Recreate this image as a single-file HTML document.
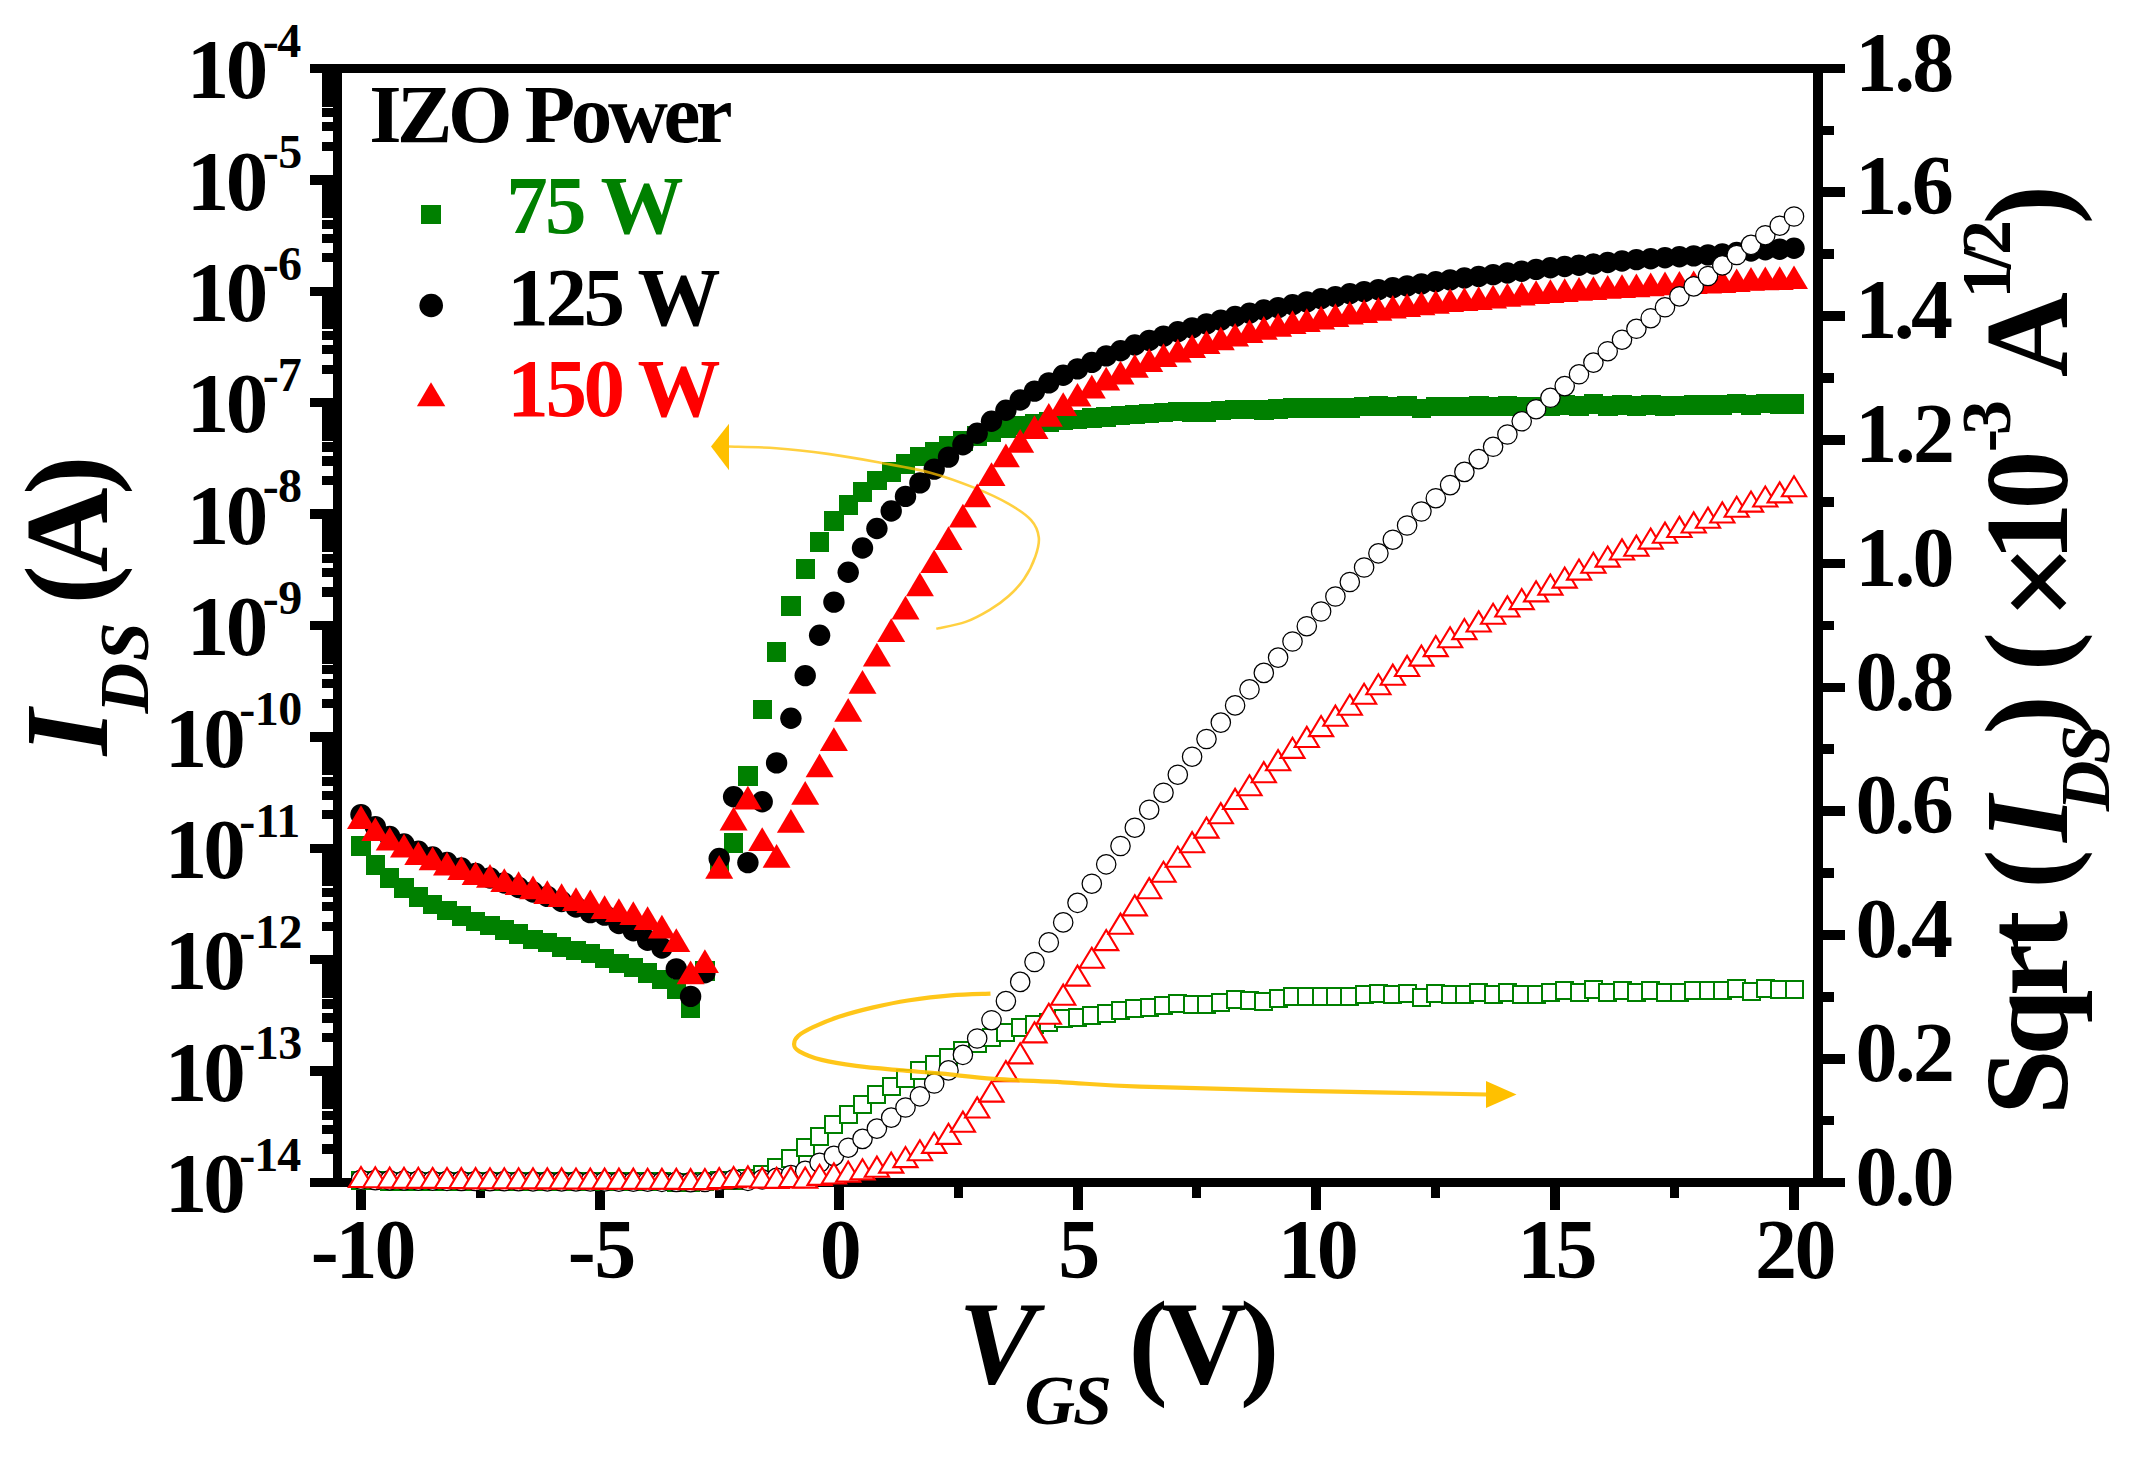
<!DOCTYPE html>
<html><head><meta charset="utf-8"><title>I_DS vs V_GS</title>
<style>html,body{margin:0;padding:0;background:#fff}svg{display:block}text{font-family:"Liberation Serif",serif;font-weight:bold;white-space:pre}</style>
</head><body>
<svg width="2148" height="1465" viewBox="0 0 2148 1465">
<rect width="2148" height="1465" fill="#fff"/>
<g shape-rendering="crispEdges">
<rect x="310.00" y="64.00" width="1535.00" height="9.00" fill="#000"/>
<rect x="310.00" y="1178.00" width="1535.00" height="9.00" fill="#000"/>
<rect x="333.00" y="64.00" width="9.00" height="1123.00" fill="#000"/>
<rect x="1813.00" y="64.00" width="10.00" height="1123.00" fill="#000"/>
<rect x="310.00" y="63.75" width="24.00" height="9.50" fill="#000"/>
<rect x="322.00" y="141.77" width="12.00" height="9.20" fill="#000"/>
<rect x="322.00" y="122.15" width="12.00" height="9.20" fill="#000"/>
<rect x="322.00" y="108.23" width="12.00" height="9.20" fill="#000"/>
<rect x="322.00" y="97.43" width="12.00" height="9.20" fill="#000"/>
<rect x="322.00" y="88.61" width="12.00" height="9.20" fill="#000"/>
<rect x="322.00" y="81.16" width="12.00" height="9.20" fill="#000"/>
<rect x="322.00" y="74.70" width="12.00" height="9.20" fill="#000"/>
<rect x="322.00" y="69.00" width="12.00" height="9.20" fill="#000"/>
<rect x="310.00" y="175.15" width="24.00" height="9.50" fill="#000"/>
<rect x="322.00" y="253.17" width="12.00" height="9.20" fill="#000"/>
<rect x="322.00" y="233.55" width="12.00" height="9.20" fill="#000"/>
<rect x="322.00" y="219.63" width="12.00" height="9.20" fill="#000"/>
<rect x="322.00" y="208.83" width="12.00" height="9.20" fill="#000"/>
<rect x="322.00" y="200.01" width="12.00" height="9.20" fill="#000"/>
<rect x="322.00" y="192.56" width="12.00" height="9.20" fill="#000"/>
<rect x="322.00" y="186.10" width="12.00" height="9.20" fill="#000"/>
<rect x="322.00" y="180.40" width="12.00" height="9.20" fill="#000"/>
<rect x="310.00" y="286.55" width="24.00" height="9.50" fill="#000"/>
<rect x="322.00" y="364.57" width="12.00" height="9.20" fill="#000"/>
<rect x="322.00" y="344.95" width="12.00" height="9.20" fill="#000"/>
<rect x="322.00" y="331.03" width="12.00" height="9.20" fill="#000"/>
<rect x="322.00" y="320.23" width="12.00" height="9.20" fill="#000"/>
<rect x="322.00" y="311.41" width="12.00" height="9.20" fill="#000"/>
<rect x="322.00" y="303.96" width="12.00" height="9.20" fill="#000"/>
<rect x="322.00" y="297.50" width="12.00" height="9.20" fill="#000"/>
<rect x="322.00" y="291.80" width="12.00" height="9.20" fill="#000"/>
<rect x="310.00" y="397.95" width="24.00" height="9.50" fill="#000"/>
<rect x="322.00" y="475.97" width="12.00" height="9.20" fill="#000"/>
<rect x="322.00" y="456.35" width="12.00" height="9.20" fill="#000"/>
<rect x="322.00" y="442.43" width="12.00" height="9.20" fill="#000"/>
<rect x="322.00" y="431.63" width="12.00" height="9.20" fill="#000"/>
<rect x="322.00" y="422.81" width="12.00" height="9.20" fill="#000"/>
<rect x="322.00" y="415.36" width="12.00" height="9.20" fill="#000"/>
<rect x="322.00" y="408.90" width="12.00" height="9.20" fill="#000"/>
<rect x="322.00" y="403.20" width="12.00" height="9.20" fill="#000"/>
<rect x="310.00" y="509.35" width="24.00" height="9.50" fill="#000"/>
<rect x="322.00" y="587.37" width="12.00" height="9.20" fill="#000"/>
<rect x="322.00" y="567.75" width="12.00" height="9.20" fill="#000"/>
<rect x="322.00" y="553.83" width="12.00" height="9.20" fill="#000"/>
<rect x="322.00" y="543.03" width="12.00" height="9.20" fill="#000"/>
<rect x="322.00" y="534.21" width="12.00" height="9.20" fill="#000"/>
<rect x="322.00" y="526.76" width="12.00" height="9.20" fill="#000"/>
<rect x="322.00" y="520.30" width="12.00" height="9.20" fill="#000"/>
<rect x="322.00" y="514.60" width="12.00" height="9.20" fill="#000"/>
<rect x="310.00" y="620.75" width="24.00" height="9.50" fill="#000"/>
<rect x="322.00" y="698.77" width="12.00" height="9.20" fill="#000"/>
<rect x="322.00" y="679.15" width="12.00" height="9.20" fill="#000"/>
<rect x="322.00" y="665.23" width="12.00" height="9.20" fill="#000"/>
<rect x="322.00" y="654.43" width="12.00" height="9.20" fill="#000"/>
<rect x="322.00" y="645.61" width="12.00" height="9.20" fill="#000"/>
<rect x="322.00" y="638.16" width="12.00" height="9.20" fill="#000"/>
<rect x="322.00" y="631.70" width="12.00" height="9.20" fill="#000"/>
<rect x="322.00" y="626.00" width="12.00" height="9.20" fill="#000"/>
<rect x="310.00" y="732.15" width="24.00" height="9.50" fill="#000"/>
<rect x="322.00" y="810.17" width="12.00" height="9.20" fill="#000"/>
<rect x="322.00" y="790.55" width="12.00" height="9.20" fill="#000"/>
<rect x="322.00" y="776.63" width="12.00" height="9.20" fill="#000"/>
<rect x="322.00" y="765.83" width="12.00" height="9.20" fill="#000"/>
<rect x="322.00" y="757.01" width="12.00" height="9.20" fill="#000"/>
<rect x="322.00" y="749.56" width="12.00" height="9.20" fill="#000"/>
<rect x="322.00" y="743.10" width="12.00" height="9.20" fill="#000"/>
<rect x="322.00" y="737.40" width="12.00" height="9.20" fill="#000"/>
<rect x="310.00" y="843.55" width="24.00" height="9.50" fill="#000"/>
<rect x="322.00" y="921.57" width="12.00" height="9.20" fill="#000"/>
<rect x="322.00" y="901.95" width="12.00" height="9.20" fill="#000"/>
<rect x="322.00" y="888.03" width="12.00" height="9.20" fill="#000"/>
<rect x="322.00" y="877.23" width="12.00" height="9.20" fill="#000"/>
<rect x="322.00" y="868.41" width="12.00" height="9.20" fill="#000"/>
<rect x="322.00" y="860.96" width="12.00" height="9.20" fill="#000"/>
<rect x="322.00" y="854.50" width="12.00" height="9.20" fill="#000"/>
<rect x="322.00" y="848.80" width="12.00" height="9.20" fill="#000"/>
<rect x="310.00" y="954.95" width="24.00" height="9.50" fill="#000"/>
<rect x="322.00" y="1032.97" width="12.00" height="9.20" fill="#000"/>
<rect x="322.00" y="1013.35" width="12.00" height="9.20" fill="#000"/>
<rect x="322.00" y="999.43" width="12.00" height="9.20" fill="#000"/>
<rect x="322.00" y="988.63" width="12.00" height="9.20" fill="#000"/>
<rect x="322.00" y="979.81" width="12.00" height="9.20" fill="#000"/>
<rect x="322.00" y="972.36" width="12.00" height="9.20" fill="#000"/>
<rect x="322.00" y="965.90" width="12.00" height="9.20" fill="#000"/>
<rect x="322.00" y="960.20" width="12.00" height="9.20" fill="#000"/>
<rect x="310.00" y="1066.35" width="24.00" height="9.50" fill="#000"/>
<rect x="322.00" y="1144.37" width="12.00" height="9.20" fill="#000"/>
<rect x="322.00" y="1124.75" width="12.00" height="9.20" fill="#000"/>
<rect x="322.00" y="1110.83" width="12.00" height="9.20" fill="#000"/>
<rect x="322.00" y="1100.03" width="12.00" height="9.20" fill="#000"/>
<rect x="322.00" y="1091.21" width="12.00" height="9.20" fill="#000"/>
<rect x="322.00" y="1083.76" width="12.00" height="9.20" fill="#000"/>
<rect x="322.00" y="1077.30" width="12.00" height="9.20" fill="#000"/>
<rect x="322.00" y="1071.60" width="12.00" height="9.20" fill="#000"/>
<rect x="310.00" y="1177.75" width="24.00" height="9.50" fill="#000"/>
<rect x="1822.00" y="1177.70" width="23.00" height="9.60" fill="#000"/>
<rect x="1822.00" y="1115.81" width="12.00" height="9.60" fill="#000"/>
<rect x="1822.00" y="1053.92" width="23.00" height="9.60" fill="#000"/>
<rect x="1822.00" y="992.03" width="12.00" height="9.60" fill="#000"/>
<rect x="1822.00" y="930.14" width="23.00" height="9.60" fill="#000"/>
<rect x="1822.00" y="868.26" width="12.00" height="9.60" fill="#000"/>
<rect x="1822.00" y="806.37" width="23.00" height="9.60" fill="#000"/>
<rect x="1822.00" y="744.48" width="12.00" height="9.60" fill="#000"/>
<rect x="1822.00" y="682.59" width="23.00" height="9.60" fill="#000"/>
<rect x="1822.00" y="620.70" width="12.00" height="9.60" fill="#000"/>
<rect x="1822.00" y="558.81" width="23.00" height="9.60" fill="#000"/>
<rect x="1822.00" y="496.92" width="12.00" height="9.60" fill="#000"/>
<rect x="1822.00" y="435.03" width="23.00" height="9.60" fill="#000"/>
<rect x="1822.00" y="373.14" width="12.00" height="9.60" fill="#000"/>
<rect x="1822.00" y="311.26" width="23.00" height="9.60" fill="#000"/>
<rect x="1822.00" y="249.37" width="12.00" height="9.60" fill="#000"/>
<rect x="1822.00" y="187.48" width="23.00" height="9.60" fill="#000"/>
<rect x="1822.00" y="125.59" width="12.00" height="9.60" fill="#000"/>
<rect x="1822.00" y="63.70" width="23.00" height="9.60" fill="#000"/>
<rect x="356.00" y="1186.00" width="10.00" height="24.00" fill="#000"/>
<rect x="475.92" y="1186.00" width="9.00" height="12.00" fill="#000"/>
<rect x="594.83" y="1186.00" width="10.00" height="24.00" fill="#000"/>
<rect x="714.75" y="1186.00" width="9.00" height="12.00" fill="#000"/>
<rect x="833.67" y="1186.00" width="10.00" height="24.00" fill="#000"/>
<rect x="953.58" y="1186.00" width="9.00" height="12.00" fill="#000"/>
<rect x="1072.50" y="1186.00" width="10.00" height="24.00" fill="#000"/>
<rect x="1192.42" y="1186.00" width="9.00" height="12.00" fill="#000"/>
<rect x="1311.33" y="1186.00" width="10.00" height="24.00" fill="#000"/>
<rect x="1431.25" y="1186.00" width="9.00" height="12.00" fill="#000"/>
<rect x="1550.17" y="1186.00" width="10.00" height="24.00" fill="#000"/>
<rect x="1670.08" y="1186.00" width="9.00" height="12.00" fill="#000"/>
<rect x="1789.00" y="1186.00" width="10.00" height="24.00" fill="#000"/>
</g>
<g fill="#008000" shape-rendering="crispEdges"><rect x="351.2" y="836.0" width="19.5" height="19.5"/><rect x="365.6" y="855.2" width="19.5" height="19.5"/><rect x="379.9" y="868.4" width="19.5" height="19.5"/><rect x="394.2" y="878.2" width="19.5" height="19.5"/><rect x="408.6" y="887.2" width="19.5" height="19.5"/><rect x="422.9" y="894.5" width="19.5" height="19.5"/><rect x="437.2" y="900.5" width="19.5" height="19.5"/><rect x="451.6" y="906.4" width="19.5" height="19.5"/><rect x="465.9" y="911.5" width="19.5" height="19.5"/><rect x="480.2" y="915.5" width="19.5" height="19.5"/><rect x="494.6" y="920.4" width="19.5" height="19.5"/><rect x="508.9" y="924.4" width="19.5" height="19.5"/><rect x="523.2" y="929.5" width="19.5" height="19.5"/><rect x="537.5" y="932.5" width="19.5" height="19.5"/><rect x="551.9" y="937.1" width="19.5" height="19.5"/><rect x="566.2" y="940.5" width="19.5" height="19.5"/><rect x="580.5" y="943.5" width="19.5" height="19.5"/><rect x="594.9" y="948.8" width="19.5" height="19.5"/><rect x="609.2" y="953.5" width="19.5" height="19.5"/><rect x="623.5" y="957.5" width="19.5" height="19.5"/><rect x="637.9" y="963.1" width="19.5" height="19.5"/><rect x="652.2" y="969.5" width="19.5" height="19.5"/><rect x="666.5" y="979.4" width="19.5" height="19.5"/><rect x="680.8" y="998.0" width="19.5" height="19.5"/><rect x="695.2" y="961.0" width="19.5" height="19.5"/><rect x="709.5" y="852.8" width="19.5" height="19.5"/><rect x="723.8" y="833.1" width="19.5" height="19.5"/><rect x="738.2" y="766.0" width="19.5" height="19.5"/><rect x="752.5" y="699.6" width="19.5" height="19.5"/><rect x="766.8" y="642.2" width="19.5" height="19.5"/><rect x="781.1" y="596.1" width="19.5" height="19.5"/><rect x="795.5" y="559.1" width="19.5" height="19.5"/><rect x="809.8" y="532.0" width="19.5" height="19.5"/><rect x="824.1" y="511.2" width="19.5" height="19.5"/><rect x="838.5" y="495.2" width="19.5" height="19.5"/><rect x="852.8" y="482.1" width="19.5" height="19.5"/><rect x="867.1" y="470.8" width="19.5" height="19.5"/><rect x="881.5" y="462.2" width="19.5" height="19.5"/><rect x="895.8" y="454.1" width="19.5" height="19.5"/><rect x="910.1" y="446.9" width="19.5" height="19.5"/><rect x="924.5" y="441.8" width="19.5" height="19.5"/><rect x="938.8" y="436.1" width="19.5" height="19.5"/><rect x="953.1" y="431.1" width="19.5" height="19.5"/><rect x="967.4" y="426.2" width="19.5" height="19.5"/><rect x="981.8" y="422.2" width="19.5" height="19.5"/><rect x="996.1" y="418.8" width="19.5" height="19.5"/><rect x="1010.4" y="415.8" width="19.5" height="19.5"/><rect x="1024.8" y="413.8" width="19.5" height="19.5"/><rect x="1039.1" y="412.2" width="19.5" height="19.5"/><rect x="1053.4" y="410.2" width="19.5" height="19.5"/><rect x="1067.8" y="409.5" width="19.5" height="19.5"/><rect x="1082.1" y="408.4" width="19.5" height="19.5"/><rect x="1096.4" y="407.3" width="19.5" height="19.5"/><rect x="1110.7" y="405.6" width="19.5" height="19.5"/><rect x="1125.1" y="404.5" width="19.5" height="19.5"/><rect x="1139.4" y="403.8" width="19.5" height="19.5"/><rect x="1153.7" y="402.8" width="19.5" height="19.5"/><rect x="1168.1" y="401.8" width="19.5" height="19.5"/><rect x="1182.4" y="402.0" width="19.5" height="19.5"/><rect x="1196.7" y="402.0" width="19.5" height="19.5"/><rect x="1211.0" y="400.8" width="19.5" height="19.5"/><rect x="1225.4" y="399.5" width="19.5" height="19.5"/><rect x="1239.7" y="399.8" width="19.5" height="19.5"/><rect x="1254.0" y="400.3" width="19.5" height="19.5"/><rect x="1268.4" y="399.1" width="19.5" height="19.5"/><rect x="1282.7" y="398.1" width="19.5" height="19.5"/><rect x="1297.0" y="398.1" width="19.5" height="19.5"/><rect x="1311.4" y="398.1" width="19.5" height="19.5"/><rect x="1325.7" y="398.1" width="19.5" height="19.5"/><rect x="1340.0" y="398.1" width="19.5" height="19.5"/><rect x="1354.3" y="396.9" width="19.5" height="19.5"/><rect x="1368.7" y="396.4" width="19.5" height="19.5"/><rect x="1383.0" y="396.9" width="19.5" height="19.5"/><rect x="1397.3" y="396.4" width="19.5" height="19.5"/><rect x="1411.7" y="398.5" width="19.5" height="19.5"/><rect x="1426.0" y="396.5" width="19.5" height="19.5"/><rect x="1440.3" y="396.9" width="19.5" height="19.5"/><rect x="1454.7" y="396.9" width="19.5" height="19.5"/><rect x="1469.0" y="396.0" width="19.5" height="19.5"/><rect x="1483.3" y="396.9" width="19.5" height="19.5"/><rect x="1497.7" y="396.0" width="19.5" height="19.5"/><rect x="1512.0" y="396.9" width="19.5" height="19.5"/><rect x="1526.3" y="396.9" width="19.5" height="19.5"/><rect x="1540.6" y="396.0" width="19.5" height="19.5"/><rect x="1555.0" y="395.1" width="19.5" height="19.5"/><rect x="1569.3" y="396.0" width="19.5" height="19.5"/><rect x="1583.6" y="394.4" width="19.5" height="19.5"/><rect x="1598.0" y="396.0" width="19.5" height="19.5"/><rect x="1612.3" y="395.1" width="19.5" height="19.5"/><rect x="1626.6" y="396.0" width="19.5" height="19.5"/><rect x="1641.0" y="395.1" width="19.5" height="19.5"/><rect x="1655.3" y="396.0" width="19.5" height="19.5"/><rect x="1669.6" y="395.7" width="19.5" height="19.5"/><rect x="1683.9" y="395.1" width="19.5" height="19.5"/><rect x="1698.3" y="395.1" width="19.5" height="19.5"/><rect x="1712.6" y="395.1" width="19.5" height="19.5"/><rect x="1726.9" y="393.8" width="19.5" height="19.5"/><rect x="1741.3" y="395.4" width="19.5" height="19.5"/><rect x="1755.6" y="393.8" width="19.5" height="19.5"/><rect x="1769.9" y="394.4" width="19.5" height="19.5"/><rect x="1784.2" y="394.4" width="19.5" height="19.5"/></g>
<g fill="#000"><circle cx="361.0" cy="814.6" r="10.7"/><circle cx="375.3" cy="826.6" r="10.7"/><circle cx="389.7" cy="836.5" r="10.7"/><circle cx="404.0" cy="844.0" r="10.7"/><circle cx="418.3" cy="851.3" r="10.7"/><circle cx="432.6" cy="857.0" r="10.7"/><circle cx="447.0" cy="862.5" r="10.7"/><circle cx="461.3" cy="868.0" r="10.7"/><circle cx="475.6" cy="873.5" r="10.7"/><circle cx="490.0" cy="878.0" r="10.7"/><circle cx="504.3" cy="883.0" r="10.7"/><circle cx="518.6" cy="887.5" r="10.7"/><circle cx="533.0" cy="892.0" r="10.7"/><circle cx="547.3" cy="896.4" r="10.7"/><circle cx="561.6" cy="901.5" r="10.7"/><circle cx="576.0" cy="907.0" r="10.7"/><circle cx="590.3" cy="912.6" r="10.7"/><circle cx="604.6" cy="915.1" r="10.7"/><circle cx="618.9" cy="923.5" r="10.7"/><circle cx="633.3" cy="930.7" r="10.7"/><circle cx="647.6" cy="940.3" r="10.7"/><circle cx="661.9" cy="948.0" r="10.7"/><circle cx="676.3" cy="968.9" r="10.7"/><circle cx="690.6" cy="996.4" r="10.7"/><circle cx="704.9" cy="972.8" r="10.7"/><circle cx="719.2" cy="858.5" r="10.7"/><circle cx="733.6" cy="796.7" r="10.7"/><circle cx="747.9" cy="862.6" r="10.7"/><circle cx="762.2" cy="801.7" r="10.7"/><circle cx="776.6" cy="762.9" r="10.7"/><circle cx="790.9" cy="718.2" r="10.7"/><circle cx="805.2" cy="675.6" r="10.7"/><circle cx="819.6" cy="635.2" r="10.7"/><circle cx="833.9" cy="602.1" r="10.7"/><circle cx="848.2" cy="572.2" r="10.7"/><circle cx="862.5" cy="548.0" r="10.7"/><circle cx="876.9" cy="528.5" r="10.7"/><circle cx="891.2" cy="511.0" r="10.7"/><circle cx="905.5" cy="496.4" r="10.7"/><circle cx="919.9" cy="482.9" r="10.7"/><circle cx="934.2" cy="469.1" r="10.7"/><circle cx="948.5" cy="457.1" r="10.7"/><circle cx="962.9" cy="444.7" r="10.7"/><circle cx="977.2" cy="433.2" r="10.7"/><circle cx="991.5" cy="421.3" r="10.7"/><circle cx="1005.9" cy="410.2" r="10.7"/><circle cx="1020.2" cy="400.0" r="10.7"/><circle cx="1034.5" cy="391.1" r="10.7"/><circle cx="1048.8" cy="382.9" r="10.7"/><circle cx="1063.2" cy="375.2" r="10.7"/><circle cx="1077.5" cy="368.9" r="10.7"/><circle cx="1091.8" cy="362.4" r="10.7"/><circle cx="1106.2" cy="355.9" r="10.7"/><circle cx="1120.5" cy="350.8" r="10.7"/><circle cx="1134.8" cy="345.0" r="10.7"/><circle cx="1149.2" cy="340.4" r="10.7"/><circle cx="1163.5" cy="336.1" r="10.7"/><circle cx="1177.8" cy="331.7" r="10.7"/><circle cx="1192.1" cy="327.9" r="10.7"/><circle cx="1206.5" cy="323.9" r="10.7"/><circle cx="1220.8" cy="320.1" r="10.7"/><circle cx="1235.1" cy="316.5" r="10.7"/><circle cx="1249.5" cy="313.3" r="10.7"/><circle cx="1263.8" cy="310.0" r="10.7"/><circle cx="1278.1" cy="307.6" r="10.7"/><circle cx="1292.5" cy="304.8" r="10.7"/><circle cx="1306.8" cy="301.9" r="10.7"/><circle cx="1321.1" cy="298.6" r="10.7"/><circle cx="1335.4" cy="296.6" r="10.7"/><circle cx="1349.8" cy="293.7" r="10.7"/><circle cx="1364.1" cy="291.6" r="10.7"/><circle cx="1378.4" cy="289.6" r="10.7"/><circle cx="1392.8" cy="287.7" r="10.7"/><circle cx="1407.1" cy="285.9" r="10.7"/><circle cx="1421.4" cy="283.9" r="10.7"/><circle cx="1435.8" cy="281.8" r="10.7"/><circle cx="1450.1" cy="279.9" r="10.7"/><circle cx="1464.4" cy="278.0" r="10.7"/><circle cx="1478.7" cy="276.5" r="10.7"/><circle cx="1493.1" cy="274.6" r="10.7"/><circle cx="1507.4" cy="273.0" r="10.7"/><circle cx="1521.7" cy="271.2" r="10.7"/><circle cx="1536.1" cy="269.4" r="10.7"/><circle cx="1550.4" cy="267.7" r="10.7"/><circle cx="1564.7" cy="266.5" r="10.7"/><circle cx="1579.0" cy="265.2" r="10.7"/><circle cx="1593.4" cy="264.0" r="10.7"/><circle cx="1607.7" cy="262.5" r="10.7"/><circle cx="1622.0" cy="261.0" r="10.7"/><circle cx="1636.4" cy="259.6" r="10.7"/><circle cx="1650.7" cy="258.7" r="10.7"/><circle cx="1665.0" cy="257.7" r="10.7"/><circle cx="1679.4" cy="256.8" r="10.7"/><circle cx="1693.7" cy="255.9" r="10.7"/><circle cx="1708.0" cy="254.9" r="10.7"/><circle cx="1722.3" cy="254.0" r="10.7"/><circle cx="1736.7" cy="252.5" r="10.7"/><circle cx="1751.0" cy="251.0" r="10.7"/><circle cx="1765.3" cy="249.8" r="10.7"/><circle cx="1779.7" cy="249.2" r="10.7"/><circle cx="1794.0" cy="248.2" r="10.7"/></g>
<path d="M728.8 446.5C736.7 446.8 759.6 447.0 776.1 448.2C792.6 449.4 810.6 451.5 827.8 453.9C845.0 456.3 862.3 459.3 879.5 462.5C896.7 465.7 915.1 468.6 931.2 472.9C947.3 477.2 963.1 483.2 976.0 488.4C988.9 493.6 999.5 498.6 1008.7 503.9C1017.9 509.2 1026.1 514.6 1031.1 520.2C1036.1 525.8 1038.1 531.5 1038.8 537.5C1039.5 543.5 1037.8 549.5 1035.4 556.4C1033.0 563.3 1028.7 572.2 1024.2 578.8C1019.8 585.4 1014.5 590.8 1008.7 596.0C1003.0 601.2 996.9 605.5 989.7 609.8C982.5 614.1 974.5 618.7 965.6 621.9C956.7 625.1 941.2 627.6 936.3 628.8" fill="none" stroke="#ffc000" stroke-width="2.6" opacity="0.75"/>
<path d="M711 446.5L729 423.8V470.3Z" fill="#ffc000"/>
<g fill="#ff0000"><path d="M361.0 805.3L375.0 829.0H347.0Z"/><path d="M375.3 817.2L389.3 840.9H361.3Z"/><path d="M389.7 826.9L403.7 850.6H375.7Z"/><path d="M404.0 833.8L418.0 857.5H390.0Z"/><path d="M418.3 841.4L432.3 865.1H404.3Z"/><path d="M432.6 846.6L446.6 870.3H418.6Z"/><path d="M447.0 851.7L461.0 875.4H433.0Z"/><path d="M461.3 856.3L475.3 880.0H447.3Z"/><path d="M475.6 861.4L489.6 885.1H461.6Z"/><path d="M490.0 864.1L504.0 887.8H476.0Z"/><path d="M504.3 868.2L518.3 891.9H490.3Z"/><path d="M518.6 871.3L532.6 895.0H504.6Z"/><path d="M533.0 875.6L547.0 899.3H519.0Z"/><path d="M547.3 880.2L561.3 903.9H533.3Z"/><path d="M561.6 883.2L575.6 906.9H547.6Z"/><path d="M576.0 887.2L590.0 910.9H562.0Z"/><path d="M590.3 889.4L604.3 913.1H576.3Z"/><path d="M604.6 895.3L618.6 919.0H590.6Z"/><path d="M618.9 898.3L632.9 922.0H604.9Z"/><path d="M633.3 901.3L647.3 925.0H619.3Z"/><path d="M647.6 906.2L661.6 929.9H633.6Z"/><path d="M661.9 914.8L675.9 938.5H647.9Z"/><path d="M676.3 928.2L690.3 951.9H662.3Z"/><path d="M690.6 960.6L704.6 984.3H676.6Z"/><path d="M704.9 949.2L718.9 972.9H690.9Z"/><path d="M719.2 855.0L733.2 878.7H705.2Z"/><path d="M733.6 806.8L747.6 830.5H719.6Z"/><path d="M747.9 785.8L761.9 809.5H733.9Z"/><path d="M762.2 827.3L776.2 851.0H748.2Z"/><path d="M776.6 844.1L790.6 867.8H762.6Z"/><path d="M790.9 809.1L804.9 832.8H776.9Z"/><path d="M805.2 781.0L819.2 804.7H791.2Z"/><path d="M819.6 753.6L833.6 777.3H805.6Z"/><path d="M833.9 727.2L847.9 750.9H819.9Z"/><path d="M848.2 698.1L862.2 721.8H834.2Z"/><path d="M862.5 670.0L876.5 693.7H848.5Z"/><path d="M876.9 642.8L890.9 666.5H862.9Z"/><path d="M891.2 618.2L905.2 641.9H877.2Z"/><path d="M905.5 595.7L919.5 619.4H891.5Z"/><path d="M919.9 572.5L933.9 596.2H905.9Z"/><path d="M934.2 549.4L948.2 573.1H920.2Z"/><path d="M948.5 526.2L962.5 549.9H934.5Z"/><path d="M962.9 503.7L976.9 527.4H948.9Z"/><path d="M977.2 483.6L991.2 507.3H963.2Z"/><path d="M991.5 462.3L1005.5 486.0H977.5Z"/><path d="M1005.9 443.5L1019.9 467.2H991.9Z"/><path d="M1020.2 429.0L1034.2 452.7H1006.2Z"/><path d="M1034.5 415.3L1048.5 439.0H1020.5Z"/><path d="M1048.8 403.0L1062.8 426.7H1034.8Z"/><path d="M1063.2 392.3L1077.2 416.0H1049.2Z"/><path d="M1077.5 382.9L1091.5 406.6H1063.5Z"/><path d="M1091.8 374.7L1105.8 398.4H1077.8Z"/><path d="M1106.2 366.7L1120.2 390.4H1092.2Z"/><path d="M1120.5 360.7L1134.5 384.4H1106.5Z"/><path d="M1134.8 354.0L1148.8 377.7H1120.8Z"/><path d="M1149.2 348.2L1163.2 371.9H1135.2Z"/><path d="M1163.5 343.2L1177.5 366.9H1149.5Z"/><path d="M1177.8 338.8L1191.8 362.5H1163.8Z"/><path d="M1192.1 334.3L1206.1 358.0H1178.1Z"/><path d="M1206.5 330.2L1220.5 353.9H1192.5Z"/><path d="M1220.8 326.5L1234.8 350.2H1206.8Z"/><path d="M1235.1 322.9L1249.1 346.6H1221.1Z"/><path d="M1249.5 319.3L1263.5 343.0H1235.5Z"/><path d="M1263.8 316.0L1277.8 339.7H1249.8Z"/><path d="M1278.1 313.1L1292.1 336.8H1264.1Z"/><path d="M1292.5 310.3L1306.5 334.0H1278.5Z"/><path d="M1306.8 308.2L1320.8 331.9H1292.8Z"/><path d="M1321.1 305.8L1335.1 329.5H1307.1Z"/><path d="M1335.4 303.3L1349.4 327.0H1321.4Z"/><path d="M1349.8 300.9L1363.8 324.6H1335.8Z"/><path d="M1364.1 299.3L1378.1 323.0H1350.1Z"/><path d="M1378.4 297.1L1392.4 320.8H1364.4Z"/><path d="M1392.8 294.9L1406.8 318.6H1378.8Z"/><path d="M1407.1 293.2L1421.1 316.9H1393.1Z"/><path d="M1421.4 291.6L1435.4 315.3H1407.4Z"/><path d="M1435.8 290.0L1449.8 313.7H1421.8Z"/><path d="M1450.1 288.3L1464.1 312.0H1436.1Z"/><path d="M1464.4 287.3L1478.4 311.0H1450.4Z"/><path d="M1478.7 286.2L1492.7 309.9H1464.7Z"/><path d="M1493.1 284.7L1507.1 308.4H1479.1Z"/><path d="M1507.4 283.0L1521.4 306.7H1493.4Z"/><path d="M1521.7 281.8L1535.7 305.5H1507.7Z"/><path d="M1536.1 280.2L1550.1 303.9H1522.1Z"/><path d="M1550.4 279.2L1564.4 302.9H1536.4Z"/><path d="M1564.7 278.3L1578.7 302.0H1550.7Z"/><path d="M1579.0 277.1L1593.0 300.8H1565.0Z"/><path d="M1593.4 276.3L1607.4 300.0H1579.4Z"/><path d="M1607.7 275.1L1621.7 298.8H1593.7Z"/><path d="M1622.0 274.3L1636.0 298.0H1608.0Z"/><path d="M1636.4 273.5L1650.4 297.2H1622.4Z"/><path d="M1650.7 272.5L1664.7 296.2H1636.7Z"/><path d="M1665.0 271.6L1679.0 295.3H1651.0Z"/><path d="M1679.4 270.9L1693.4 294.6H1665.4Z"/><path d="M1693.7 270.4L1707.7 294.1H1679.7Z"/><path d="M1708.0 269.8L1722.0 293.5H1694.0Z"/><path d="M1722.3 269.2L1736.3 292.9H1708.3Z"/><path d="M1736.7 268.4L1750.7 292.1H1722.7Z"/><path d="M1751.0 267.1L1765.0 290.8H1737.0Z"/><path d="M1765.3 266.6L1779.3 290.3H1751.3Z"/><path d="M1779.7 266.3L1793.7 290.0H1765.7Z"/><path d="M1794.0 265.4L1808.0 289.1H1780.0Z"/></g>
<g fill="#fff" stroke="#008000" stroke-width="2" shape-rendering="crispEdges"><rect x="352" y="1172" width="17" height="17"/><rect x="367" y="1172" width="17" height="17"/><rect x="381" y="1173" width="17" height="17"/><rect x="395" y="1173" width="17" height="17"/><rect x="410" y="1173" width="17" height="17"/><rect x="424" y="1173" width="17" height="17"/><rect x="438" y="1173" width="17" height="17"/><rect x="453" y="1173" width="17" height="17"/><rect x="467" y="1173" width="17" height="17"/><rect x="481" y="1173" width="17" height="17"/><rect x="496" y="1173" width="17" height="17"/><rect x="510" y="1173" width="17" height="17"/><rect x="524" y="1173" width="17" height="17"/><rect x="539" y="1173" width="17" height="17"/><rect x="553" y="1173" width="17" height="17"/><rect x="567" y="1173" width="17" height="17"/><rect x="582" y="1173" width="17" height="17"/><rect x="596" y="1173" width="17" height="17"/><rect x="610" y="1173" width="17" height="17"/><rect x="625" y="1173" width="17" height="17"/><rect x="639" y="1173" width="17" height="17"/><rect x="653" y="1173" width="17" height="17"/><rect x="668" y="1174" width="17" height="17"/><rect x="682" y="1174" width="17" height="17"/><rect x="696" y="1173" width="17" height="17"/><rect x="711" y="1172" width="17" height="17"/><rect x="725" y="1172" width="17" height="17"/><rect x="739" y="1170" width="17" height="17"/><rect x="754" y="1166" width="17" height="17"/><rect x="768" y="1159" width="17" height="17"/><rect x="782" y="1150" width="17" height="17"/><rect x="797" y="1139" width="17" height="17"/><rect x="811" y="1128" width="17" height="17"/><rect x="825" y="1116" width="17" height="17"/><rect x="840" y="1106" width="17" height="17"/><rect x="854" y="1096" width="17" height="17"/><rect x="868" y="1086" width="17" height="17"/><rect x="883" y="1078" width="17" height="17"/><rect x="897" y="1070" width="17" height="17"/><rect x="911" y="1062" width="17" height="17"/><rect x="926" y="1056" width="17" height="17"/><rect x="940" y="1049" width="17" height="17"/><rect x="954" y="1042" width="17" height="17"/><rect x="969" y="1035" width="17" height="17"/><rect x="983" y="1029" width="17" height="17"/><rect x="997" y="1024" width="17" height="17"/><rect x="1012" y="1019" width="17" height="17"/><rect x="1026" y="1016" width="17" height="17"/><rect x="1040" y="1014" width="17" height="17"/><rect x="1055" y="1010" width="17" height="17"/><rect x="1069" y="1009" width="17" height="17"/><rect x="1083" y="1007" width="17" height="17"/><rect x="1098" y="1005" width="17" height="17"/><rect x="1112" y="1002" width="17" height="17"/><rect x="1126" y="1000" width="17" height="17"/><rect x="1141" y="999" width="17" height="17"/><rect x="1155" y="997" width="17" height="17"/><rect x="1169" y="995" width="17" height="17"/><rect x="1184" y="996" width="17" height="17"/><rect x="1198" y="996" width="17" height="17"/><rect x="1212" y="994" width="17" height="17"/><rect x="1227" y="991" width="17" height="17"/><rect x="1241" y="992" width="17" height="17"/><rect x="1255" y="993" width="17" height="17"/><rect x="1270" y="990" width="17" height="17"/><rect x="1284" y="988" width="17" height="17"/><rect x="1298" y="988" width="17" height="17"/><rect x="1313" y="988" width="17" height="17"/><rect x="1327" y="988" width="17" height="17"/><rect x="1341" y="988" width="17" height="17"/><rect x="1356" y="986" width="17" height="17"/><rect x="1370" y="985" width="17" height="17"/><rect x="1384" y="986" width="17" height="17"/><rect x="1399" y="985" width="17" height="17"/><rect x="1413" y="989" width="17" height="17"/><rect x="1427" y="985" width="17" height="17"/><rect x="1442" y="986" width="17" height="17"/><rect x="1456" y="986" width="17" height="17"/><rect x="1470" y="984" width="17" height="17"/><rect x="1485" y="986" width="17" height="17"/><rect x="1499" y="984" width="17" height="17"/><rect x="1513" y="986" width="17" height="17"/><rect x="1528" y="986" width="17" height="17"/><rect x="1542" y="984" width="17" height="17"/><rect x="1556" y="982" width="17" height="17"/><rect x="1571" y="984" width="17" height="17"/><rect x="1585" y="981" width="17" height="17"/><rect x="1599" y="984" width="17" height="17"/><rect x="1614" y="982" width="17" height="17"/><rect x="1628" y="984" width="17" height="17"/><rect x="1642" y="982" width="17" height="17"/><rect x="1657" y="984" width="17" height="17"/><rect x="1671" y="984" width="17" height="17"/><rect x="1685" y="982" width="17" height="17"/><rect x="1700" y="982" width="17" height="17"/><rect x="1714" y="982" width="17" height="17"/><rect x="1728" y="980" width="17" height="17"/><rect x="1743" y="983" width="17" height="17"/><rect x="1757" y="980" width="17" height="17"/><rect x="1771" y="981" width="17" height="17"/><rect x="1786" y="981" width="17" height="17"/></g>
<g fill="#fff" stroke="#000" stroke-width="1.25"><circle cx="361.0" cy="1179.7" r="9.7"/><circle cx="375.3" cy="1180.1" r="9.7"/><circle cx="389.7" cy="1180.3" r="9.7"/><circle cx="404.0" cy="1180.5" r="9.7"/><circle cx="418.3" cy="1180.6" r="9.7"/><circle cx="432.6" cy="1180.7" r="9.7"/><circle cx="447.0" cy="1180.8" r="9.7"/><circle cx="461.3" cy="1180.9" r="9.7"/><circle cx="475.6" cy="1181.0" r="9.7"/><circle cx="490.0" cy="1181.1" r="9.7"/><circle cx="504.3" cy="1181.1" r="9.7"/><circle cx="518.6" cy="1181.2" r="9.7"/><circle cx="533.0" cy="1181.3" r="9.7"/><circle cx="547.3" cy="1181.3" r="9.7"/><circle cx="561.6" cy="1181.4" r="9.7"/><circle cx="576.0" cy="1181.4" r="9.7"/><circle cx="590.3" cy="1181.5" r="9.7"/><circle cx="604.6" cy="1181.5" r="9.7"/><circle cx="618.9" cy="1181.6" r="9.7"/><circle cx="633.3" cy="1181.7" r="9.7"/><circle cx="647.6" cy="1181.7" r="9.7"/><circle cx="661.9" cy="1181.8" r="9.7"/><circle cx="676.3" cy="1181.9" r="9.7"/><circle cx="690.6" cy="1182.1" r="9.7"/><circle cx="704.9" cy="1182.0" r="9.7"/><circle cx="719.2" cy="1180.7" r="9.7"/><circle cx="733.6" cy="1179.2" r="9.7"/><circle cx="747.9" cy="1180.8" r="9.7"/><circle cx="762.2" cy="1179.3" r="9.7"/><circle cx="776.6" cy="1177.8" r="9.7"/><circle cx="790.9" cy="1175.0" r="9.7"/><circle cx="805.2" cy="1170.8" r="9.7"/><circle cx="819.6" cy="1162.7" r="9.7"/><circle cx="833.9" cy="1155.9" r="9.7"/><circle cx="848.2" cy="1147.7" r="9.7"/><circle cx="862.5" cy="1138.9" r="9.7"/><circle cx="876.9" cy="1128.6" r="9.7"/><circle cx="891.2" cy="1117.6" r="9.7"/><circle cx="905.5" cy="1107.5" r="9.7"/><circle cx="919.9" cy="1096.3" r="9.7"/><circle cx="934.2" cy="1083.5" r="9.7"/><circle cx="948.5" cy="1070.4" r="9.7"/><circle cx="962.9" cy="1054.8" r="9.7"/><circle cx="977.2" cy="1038.5" r="9.7"/><circle cx="991.5" cy="1020.2" r="9.7"/><circle cx="1005.9" cy="1001.1" r="9.7"/><circle cx="1020.2" cy="981.9" r="9.7"/><circle cx="1034.5" cy="962.0" r="9.7"/><circle cx="1048.8" cy="942.4" r="9.7"/><circle cx="1063.2" cy="922.4" r="9.7"/><circle cx="1077.5" cy="902.8" r="9.7"/><circle cx="1091.8" cy="883.7" r="9.7"/><circle cx="1106.2" cy="864.3" r="9.7"/><circle cx="1120.5" cy="846.0" r="9.7"/><circle cx="1134.8" cy="827.7" r="9.7"/><circle cx="1149.2" cy="809.7" r="9.7"/><circle cx="1163.5" cy="792.7" r="9.7"/><circle cx="1177.8" cy="774.7" r="9.7"/><circle cx="1192.1" cy="756.7" r="9.7"/><circle cx="1206.5" cy="739.0" r="9.7"/><circle cx="1220.8" cy="722.6" r="9.7"/><circle cx="1235.1" cy="705.4" r="9.7"/><circle cx="1249.5" cy="689.3" r="9.7"/><circle cx="1263.8" cy="672.9" r="9.7"/><circle cx="1278.1" cy="657.6" r="9.7"/><circle cx="1292.5" cy="641.5" r="9.7"/><circle cx="1306.8" cy="626.2" r="9.7"/><circle cx="1321.1" cy="611.5" r="9.7"/><circle cx="1335.4" cy="596.5" r="9.7"/><circle cx="1349.8" cy="582.0" r="9.7"/><circle cx="1364.1" cy="567.5" r="9.7"/><circle cx="1378.4" cy="553.3" r="9.7"/><circle cx="1392.8" cy="539.7" r="9.7"/><circle cx="1407.1" cy="525.5" r="9.7"/><circle cx="1421.4" cy="511.5" r="9.7"/><circle cx="1435.8" cy="498.2" r="9.7"/><circle cx="1450.1" cy="485.1" r="9.7"/><circle cx="1464.4" cy="471.9" r="9.7"/><circle cx="1478.7" cy="459.1" r="9.7"/><circle cx="1493.1" cy="446.8" r="9.7"/><circle cx="1507.4" cy="434.5" r="9.7"/><circle cx="1521.7" cy="421.3" r="9.7"/><circle cx="1536.1" cy="409.2" r="9.7"/><circle cx="1550.4" cy="397.8" r="9.7"/><circle cx="1564.7" cy="386.1" r="9.7"/><circle cx="1579.0" cy="374.3" r="9.7"/><circle cx="1593.4" cy="362.6" r="9.7"/><circle cx="1607.7" cy="351.2" r="9.7"/><circle cx="1622.0" cy="339.7" r="9.7"/><circle cx="1636.4" cy="328.8" r="9.7"/><circle cx="1650.7" cy="318.2" r="9.7"/><circle cx="1665.0" cy="307.3" r="9.7"/><circle cx="1679.4" cy="296.4" r="9.7"/><circle cx="1693.7" cy="286.4" r="9.7"/><circle cx="1708.0" cy="276.0" r="9.7"/><circle cx="1722.3" cy="265.4" r="9.7"/><circle cx="1736.7" cy="255.0" r="9.7"/><circle cx="1751.0" cy="244.8" r="9.7"/><circle cx="1765.3" cy="235.2" r="9.7"/><circle cx="1779.7" cy="225.7" r="9.7"/><circle cx="1794.0" cy="216.5" r="9.7"/></g>
<g fill="#fff" stroke="#ff0000" stroke-width="2.1" stroke-linejoin="miter"><path d="M361.0 1167.0L373.1 1187.0H348.9Z"/><path d="M375.3 1167.3L387.4 1187.3H363.2Z"/><path d="M389.7 1167.5L401.8 1187.6H377.6Z"/><path d="M404.0 1167.7L416.1 1187.7H391.9Z"/><path d="M418.3 1167.8L430.4 1187.9H406.2Z"/><path d="M432.6 1167.9L444.8 1187.9H420.5Z"/><path d="M447.0 1168.0L459.1 1188.0H434.9Z"/><path d="M461.3 1168.1L473.4 1188.1H449.2Z"/><path d="M475.6 1168.1L487.7 1188.2H463.5Z"/><path d="M490.0 1168.2L502.1 1188.2H477.9Z"/><path d="M504.3 1168.2L516.4 1188.3H492.2Z"/><path d="M518.6 1168.3L530.7 1188.3H506.5Z"/><path d="M533.0 1168.3L545.1 1188.4H520.9Z"/><path d="M547.3 1168.4L559.4 1188.4H535.2Z"/><path d="M561.6 1168.4L573.7 1188.5H549.5Z"/><path d="M576.0 1168.5L588.1 1188.5H563.9Z"/><path d="M590.3 1168.5L602.4 1188.6H578.2Z"/><path d="M604.6 1168.6L616.7 1188.6H592.5Z"/><path d="M618.9 1168.6L631.0 1188.7H606.8Z"/><path d="M633.3 1168.6L645.4 1188.7H621.2Z"/><path d="M647.6 1168.7L659.7 1188.7H635.5Z"/><path d="M661.9 1168.8L674.0 1188.8H649.8Z"/><path d="M676.3 1168.9L688.4 1188.9H664.2Z"/><path d="M690.6 1169.1L702.7 1189.1H678.5Z"/><path d="M704.9 1169.0L717.0 1189.1H692.8Z"/><path d="M719.2 1168.0L731.4 1188.1H707.1Z"/><path d="M733.6 1167.0L745.7 1187.1H721.5Z"/><path d="M747.9 1166.4L760.0 1186.5H735.8Z"/><path d="M762.2 1167.5L774.3 1187.6H750.1Z"/><path d="M776.6 1167.8L788.7 1187.9H764.5Z"/><path d="M790.9 1167.1L803.0 1187.1H778.8Z"/><path d="M805.2 1167.5L817.3 1187.6H793.1Z"/><path d="M819.6 1164.8L831.7 1184.9H807.5Z"/><path d="M833.9 1163.4L846.0 1183.5H821.8Z"/><path d="M848.2 1161.5L860.3 1181.6H836.1Z"/><path d="M862.5 1159.3L874.6 1179.4H850.4Z"/><path d="M876.9 1156.6L889.0 1176.7H864.8Z"/><path d="M891.2 1152.5L903.3 1172.6H879.1Z"/><path d="M905.5 1147.0L917.6 1167.1H893.4Z"/><path d="M919.9 1140.2L932.0 1160.2H907.8Z"/><path d="M934.2 1132.8L946.3 1152.9H922.1Z"/><path d="M948.5 1123.8L960.6 1143.9H936.4Z"/><path d="M962.9 1111.6L975.0 1131.7H950.8Z"/><path d="M977.2 1097.4L989.3 1117.5H965.1Z"/><path d="M991.5 1081.5L1003.6 1101.6H979.4Z"/><path d="M1005.9 1061.0L1018.0 1081.1H993.8Z"/><path d="M1020.2 1043.3L1032.3 1063.4H1008.1Z"/><path d="M1034.5 1022.3L1046.6 1042.4H1022.4Z"/><path d="M1048.8 1003.7L1060.9 1023.8H1036.7Z"/><path d="M1063.2 984.6L1075.3 1004.7H1051.1Z"/><path d="M1077.5 965.5L1089.6 985.6H1065.4Z"/><path d="M1091.8 947.7L1103.9 967.8H1079.7Z"/><path d="M1106.2 930.0L1118.3 950.1H1094.1Z"/><path d="M1120.5 913.6L1132.6 933.7H1108.4Z"/><path d="M1134.8 895.3L1146.9 915.4H1122.7Z"/><path d="M1149.2 878.1L1161.2 898.2H1137.1Z"/><path d="M1163.5 861.7L1175.6 881.8H1151.4Z"/><path d="M1177.8 846.7L1189.9 866.8H1165.7Z"/><path d="M1192.1 832.1L1204.2 852.2H1180.0Z"/><path d="M1206.5 817.5L1218.6 837.6H1194.4Z"/><path d="M1220.8 803.1L1232.9 823.2H1208.7Z"/><path d="M1235.1 788.9L1247.2 809.0H1223.0Z"/><path d="M1249.5 775.2L1261.6 795.3H1237.4Z"/><path d="M1263.8 762.1L1275.9 782.2H1251.7Z"/><path d="M1278.1 750.1L1290.2 770.2H1266.0Z"/><path d="M1292.5 737.8L1304.5 757.9H1280.4Z"/><path d="M1306.8 726.9L1318.9 747.0H1294.7Z"/><path d="M1321.1 716.0L1333.2 736.1H1309.0Z"/><path d="M1335.4 705.6L1347.5 725.7H1323.3Z"/><path d="M1349.8 694.7L1361.9 714.8H1337.7Z"/><path d="M1364.1 683.7L1376.2 703.8H1352.0Z"/><path d="M1378.4 674.2L1390.5 694.3H1366.3Z"/><path d="M1392.8 664.6L1404.9 684.7H1380.7Z"/><path d="M1407.1 655.9L1419.2 676.0H1395.0Z"/><path d="M1421.4 645.5L1433.5 665.6H1409.3Z"/><path d="M1435.8 636.0L1447.8 656.1H1423.7Z"/><path d="M1450.1 627.2L1462.2 647.3H1438.0Z"/><path d="M1464.4 619.0L1476.5 639.1H1452.3Z"/><path d="M1478.7 611.4L1490.8 631.5H1466.6Z"/><path d="M1493.1 603.7L1505.2 623.8H1481.0Z"/><path d="M1507.4 596.4L1519.5 616.5H1495.3Z"/><path d="M1521.7 589.0L1533.8 609.1H1509.6Z"/><path d="M1536.1 581.3L1548.2 601.4H1524.0Z"/><path d="M1550.4 574.5L1562.5 594.6H1538.3Z"/><path d="M1564.7 567.5L1576.8 587.6H1552.6Z"/><path d="M1579.0 559.5L1591.1 579.6H1567.0Z"/><path d="M1593.4 552.7L1605.5 572.8H1581.3Z"/><path d="M1607.7 546.5L1619.8 566.6H1595.6Z"/><path d="M1622.0 539.4L1634.1 559.5H1609.9Z"/><path d="M1636.4 535.6L1648.5 555.7H1624.3Z"/><path d="M1650.7 528.5L1662.8 548.6H1638.6Z"/><path d="M1665.0 522.6L1677.1 542.7H1652.9Z"/><path d="M1679.4 516.9L1691.5 537.0H1667.3Z"/><path d="M1693.7 512.4L1705.8 532.5H1681.6Z"/><path d="M1708.0 507.6L1720.1 527.7H1695.9Z"/><path d="M1722.3 502.4L1734.4 522.5H1710.2Z"/><path d="M1736.7 496.7L1748.8 516.8H1724.6Z"/><path d="M1751.0 491.5L1763.1 511.6H1738.9Z"/><path d="M1765.3 486.5L1777.4 506.5H1753.2Z"/><path d="M1779.7 482.4L1791.8 502.4H1767.6Z"/><path d="M1794.0 476.2L1806.1 496.2H1781.9Z"/></g>
<path d="M990.5 993.6C983.9 993.9 964.7 994.1 950.9 995.3C937.1 996.4 920.7 998.5 907.8 1000.5C894.9 1002.5 884.9 1004.7 873.4 1007.4C861.9 1010.1 848.9 1013.5 838.9 1016.8C828.9 1020.1 819.9 1024.0 813.1 1027.2C806.4 1030.4 801.6 1032.9 798.4 1035.8C795.2 1038.7 794.0 1041.8 794.1 1044.4C794.2 1047.0 794.7 1048.7 799.3 1051.3C803.9 1053.9 812.2 1057.5 821.7 1059.9C831.2 1062.3 843.2 1064.2 856.1 1065.9C869.0 1067.6 884.8 1068.9 899.2 1070.2C913.6 1071.5 926.5 1072.2 942.3 1073.7C958.1 1075.2 973.8 1077.5 993.9 1078.9C1014.0 1080.3 1038.5 1081.0 1062.8 1082.3C1087.1 1083.6 1100.5 1085.2 1140.0 1086.6C1179.5 1088.0 1242.2 1089.5 1300.0 1090.8C1357.8 1092.1 1455.8 1093.9 1487.0 1094.5" fill="none" stroke="#ffc000" stroke-width="4.2" opacity="0.9"/>
<path d="M1516.5 1094.5L1486 1080.9V1108.1Z" fill="#ffc000"/>
<text x="186.79" y="98.20" font-size="85" style="letter-spacing:-3.56px" fill="#000">10</text>
<text x="262.84" y="56.70" font-size="48" style="letter-spacing:-1.44px" fill="#000">-4</text>
<text x="186.79" y="209.60" font-size="85" style="letter-spacing:-3.56px" fill="#000">10</text>
<text x="262.84" y="168.10" font-size="48" style="letter-spacing:-0.57px" fill="#000">-5</text>
<text x="186.79" y="321.00" font-size="85" style="letter-spacing:-3.56px" fill="#000">10</text>
<text x="262.84" y="279.50" font-size="48" style="letter-spacing:-0.92px" fill="#000">-6</text>
<text x="186.79" y="432.40" font-size="85" style="letter-spacing:-3.56px" fill="#000">10</text>
<text x="262.84" y="390.90" font-size="48" style="letter-spacing:-1.15px" fill="#000">-7</text>
<text x="186.79" y="543.80" font-size="85" style="letter-spacing:-3.56px" fill="#000">10</text>
<text x="262.84" y="502.30" font-size="48" style="letter-spacing:-0.73px" fill="#000">-8</text>
<text x="186.79" y="655.20" font-size="85" style="letter-spacing:-3.56px" fill="#000">10</text>
<text x="262.84" y="613.70" font-size="48" style="letter-spacing:-0.59px" fill="#000">-9</text>
<text x="164.69" y="766.60" font-size="85" style="letter-spacing:-3.96px" fill="#000">10</text>
<text x="239.34" y="725.10" font-size="48" style="letter-spacing:-0.50px" fill="#000">-10</text>
<text x="164.69" y="878.00" font-size="85" style="letter-spacing:-3.96px" fill="#000">10</text>
<text x="239.34" y="836.50" font-size="48" style="letter-spacing:-0.17px" fill="#000">-11</text>
<text x="164.69" y="989.40" font-size="85" style="letter-spacing:-3.96px" fill="#000">10</text>
<text x="239.34" y="947.90" font-size="48" style="letter-spacing:-0.38px" fill="#000">-12</text>
<text x="164.69" y="1100.80" font-size="85" style="letter-spacing:-3.96px" fill="#000">10</text>
<text x="239.34" y="1059.30" font-size="48" style="letter-spacing:-0.59px" fill="#000">-13</text>
<text x="164.69" y="1212.20" font-size="85" style="letter-spacing:-3.96px" fill="#000">10</text>
<text x="239.34" y="1170.70" font-size="48" style="letter-spacing:-0.97px" fill="#000">-14</text>
<text x="310.72" y="1277.80" font-size="84" style="letter-spacing:-3.10px" fill="#000">-10</text>
<text x="567.72" y="1277.80" font-size="84" style="letter-spacing:-1.42px" fill="#000">-5</text>
<text x="819.70" y="1277.80" font-size="84" style="letter-spacing:0.00px" fill="#000">0</text>
<text x="1058.34" y="1277.80" font-size="84" style="letter-spacing:0.00px" fill="#000">5</text>
<text x="1277.87" y="1277.80" font-size="84" style="letter-spacing:-3.17px" fill="#000">10</text>
<text x="1517.27" y="1277.80" font-size="84" style="letter-spacing:-3.80px" fill="#000">15</text>
<text x="1755.07" y="1277.80" font-size="84" style="letter-spacing:-2.67px" fill="#000">20</text>
<text x="1855.60" y="1204.70" font-size="84" style="letter-spacing:-3.00px" fill="#000">0.0</text>
<text x="1855.60" y="1080.92" font-size="84" style="letter-spacing:-2.80px" fill="#000">0.2</text>
<text x="1855.60" y="957.14" font-size="84" style="letter-spacing:-3.82px" fill="#000">0.4</text>
<text x="1855.60" y="833.37" font-size="84" style="letter-spacing:-3.37px" fill="#000">0.6</text>
<text x="1855.60" y="709.59" font-size="84" style="letter-spacing:-3.21px" fill="#000">0.8</text>
<text x="1855.37" y="585.81" font-size="84" style="letter-spacing:-2.89px" fill="#000">1.0</text>
<text x="1855.37" y="462.03" font-size="84" style="letter-spacing:-2.68px" fill="#000">1.2</text>
<text x="1855.37" y="338.26" font-size="84" style="letter-spacing:-3.71px" fill="#000">1.4</text>
<text x="1855.37" y="214.48" font-size="84" style="letter-spacing:-3.26px" fill="#000">1.6</text>
<text x="1855.37" y="90.70" font-size="84" style="letter-spacing:-3.09px" fill="#000">1.8</text>
<text x="369.20" y="141.60" font-size="83" style="letter-spacing:-4.41px" fill="#000">IZO Power</text>
<text x="506.26" y="233.00" font-size="83" style="letter-spacing:-2.64px" fill="#008000">75 W</text>
<text x="507.35" y="325.00" font-size="83" style="letter-spacing:-3.38px" fill="#000">125 W</text>
<text x="507.35" y="415.70" font-size="83" style="letter-spacing:-3.38px" fill="#ff0000">150 W</text>
<rect x="421" y="204.7" width="20" height="19.3" fill="#008000" shape-rendering="crispEdges"/>
<circle cx="431.2" cy="305.5" r="11.8" fill="#000"/>
<path d="M431 382.3L445.3 406.2H416.9Z" fill="#ff0000"/>
<text x="958.19" y="1383.40" font-size="118" style="font-style:italic;letter-spacing:0.00px" fill="#000">V</text>
<text x="1024.41" y="1423.80" font-size="70" style="font-style:italic;letter-spacing:-1.95px" fill="#000">GS</text>
<text x="1128.41" y="1383.40" font-size="118" style="letter-spacing:-6.52px" fill="#000">(V)</text>
<g transform="translate(106.5 0) rotate(-90)">
<text x="-755.25" y="0.00" font-size="118" style="font-style:italic;letter-spacing:0.00px" fill="#000">I</text>
<text x="-713.49" y="41.50" font-size="70" style="font-style:italic;letter-spacing:1.64px" fill="#000">DS</text>
<text x="-604.59" y="0.00" font-size="118" style="letter-spacing:-7.32px" fill="#000">(A)</text>
</g>
<g transform="translate(2067 0) rotate(-90)">
<text x="-1114.88" y="0.00" font-size="118" style="letter-spacing:-6.27px" fill="#000">Sqrt</text>
<text x="-888.79" y="0.00" font-size="118" style="letter-spacing:0.00px" fill="#000">(</text>
<text x="-841.85" y="0.00" font-size="118" style="font-style:italic;letter-spacing:0.00px" fill="#000">I</text>
<text x="-811.19" y="41.50" font-size="70" style="font-style:italic;letter-spacing:-3.36px" fill="#000">DS</text>
<text x="-734.40" y="0.00" font-size="118" style="letter-spacing:0.00px" fill="#000">)</text>
<text x="-671.19" y="0.00" font-size="118" style="letter-spacing:0.00px" fill="#000">(</text>
<text x="-619.47" y="15.50" font-size="133" style="letter-spacing:0.00px" fill="#000">×</text>
<text x="-561.45" y="0.00" font-size="118" style="letter-spacing:-7.06px" fill="#000">10</text>
<text x="-452.26" y="-57.00" font-size="70" style="letter-spacing:-6.15px" fill="#000">-3</text>
<text x="-377.15" y="0.00" font-size="118" style="letter-spacing:0.00px" fill="#000">A</text>
<text x="-298.61" y="-57.00" font-size="70" style="letter-spacing:-5.42px" fill="#000">1/2</text>
<text x="-224.20" y="0.00" font-size="118" style="letter-spacing:0.00px" fill="#000">)</text>
</g>
</svg>
</body></html>
